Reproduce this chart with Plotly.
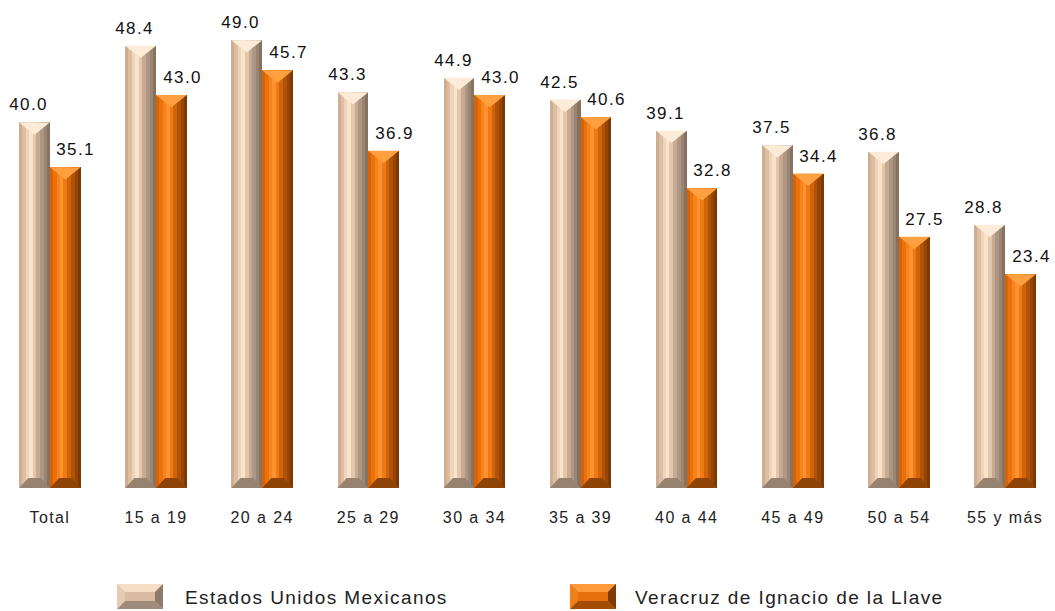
import plotly.graph_objects as go

categories = ["Total", "15 a 19", "20 a 24", "25 a 29", "30 a 34", "35 a 39",
              "40 a 44", "45 a 49", "50 a 54", "55 y más"]
mexico = [40.0, 48.4, 49.0, 43.3, 44.9, 42.5, 39.1, 37.5, 36.8, 28.8]
veracruz = [35.1, 43.0, 45.7, 36.9, 43.0, 40.6, 32.8, 34.4, 27.5, 23.4]
series_names = ["Estados Unidos Mexicanos", "Veracruz de Ignacio de la Llave"]

W = 0.29
xs = list(range(len(categories)))
FONT = "Liberation Sans, Arial, sans-serif"

strips = {
    0: [(0.00, 0.10, "#CDAE93"), (0.10, 0.22, "#DCBEA3"), (0.22, 0.32, "#EFD4BA"),
        (0.32, 0.44, "#FAE3CC"), (0.44, 0.56, "#E3C7AC"), (0.56, 0.68, "#C6AA92"),
        (0.68, 0.80, "#AD9684"), (0.80, 0.90, "#9A8472"), (0.90, 1.00, "#877262")],
    1: [(0.00, 0.10, "#D86206"), (0.10, 0.22, "#EA720E"), (0.22, 0.32, "#F8821C"),
        (0.32, 0.44, "#FF9230"), (0.44, 0.56, "#EE7A16"), (0.56, 0.68, "#D0640A"),
        (0.68, 0.80, "#B05208"), (0.80, 0.90, "#964506"), (0.90, 1.00, "#7C3904")],
}
caps = {0: "#FCEBD6", 1: "#FFA040"}
bottoms = {0: "#97826F", 1: "#8E4406"}
legend_cols = {
    0: dict(base="#D8BBA0", top="#F6DEC6", bottom="#A08A79", left="#E6CBB0", right="#8E7A6A"),
    1: dict(base="#E8700C", top="#FF9A3C", bottom="#A24C08", left="#F2801A", right="#7E3A06"),
}

fig = go.Figure()

for k, vals in enumerate([mexico, veracruz]):
    off0 = -W if k == 0 else 0.0
    for f0, f1, col in strips[k]:
        fig.add_trace(go.Bar(x=xs, y=vals, offset=off0 + W * f0, width=W * (f1 - f0),
                             marker=dict(color=col, line=dict(width=0)),
                             showlegend=False, hoverinfo="skip"))
    tx, ty, bx, by = [], [], [], []
    for x, v in zip(xs, vals):
        xl, xr = x + off0, x + off0 + W
        tx += [xl, xr, (xl + xr) / 2, xl, None]
        ty += [v, v, v - 1.35, v, None]
        bx += [xl, xr, xr - W * 0.3, xl + W * 0.3, xl, None]
        by += [0, 0, 1.1, 1.1, 0, None]
    fig.add_trace(go.Scatter(x=tx, y=ty, mode="lines", fill="toself",
                             fillcolor=caps[k], line=dict(width=0),
                             showlegend=False, hoverinfo="skip"))
    fig.add_trace(go.Scatter(x=bx, y=by, mode="lines", fill="toself",
                             fillcolor=bottoms[k], line=dict(width=0),
                             showlegend=False, hoverinfo="skip"))

annotations = []
for k, vals in enumerate([mexico, veracruz]):
    dx = -0.2 if k == 0 else 0.245
    for x, v in zip(xs, vals):
        annotations.append(dict(x=x + dx, y=v, xref="x", yref="y", text=f"{v:.1f}",
                                showarrow=False, xanchor="center", yanchor="bottom",
                                yshift=6, font=dict(family=FONT, size=17, color="#111111")))

shapes = []
H = 478.0
def py(Y):
    return (488 - Y) / H
def px(X):
    return X / 1055.0

legend_items = [(117, 163, 183, 0), (570, 616, 633, 1)]
for x0, x1, tx, k in legend_items:
    s = legend_cols[k]
    y0, y1 = 584, 609
    b = 8
    shapes.append(dict(type="rect", xref="paper", yref="paper",
                       x0=px(x0), x1=px(x1), y0=py(y1), y1=py(y0),
                       fillcolor=s["base"], line=dict(width=0)))
    shapes.append(dict(type="path", xref="paper", yref="paper",
                       path=f"M{px(x0)},{py(y0)} L{px(x1)},{py(y0)} L{px(x1-b)},{py(y0+b)} L{px(x0+b)},{py(y0+b)} Z",
                       fillcolor=s["top"], line=dict(width=0)))
    shapes.append(dict(type="path", xref="paper", yref="paper",
                       path=f"M{px(x0)},{py(y1)} L{px(x1)},{py(y1)} L{px(x1-b)},{py(y1-b)} L{px(x0+b)},{py(y1-b)} Z",
                       fillcolor=s["bottom"], line=dict(width=0)))
    shapes.append(dict(type="path", xref="paper", yref="paper",
                       path=f"M{px(x0)},{py(y0)} L{px(x0+b)},{py(y0+b)} L{px(x0+b)},{py(y1-b)} L{px(x0)},{py(y1)} Z",
                       fillcolor=s["left"], line=dict(width=0)))
    shapes.append(dict(type="path", xref="paper", yref="paper",
                       path=f"M{px(x1)},{py(y0)} L{px(x1-b)},{py(y0+b)} L{px(x1-b)},{py(y1-b)} L{px(x1)},{py(y1)} Z",
                       fillcolor=s["right"], line=dict(width=0)))
    annotations.append(dict(xref="paper", yref="paper", x=px(tx), y=py(597),
                            xanchor="left", yanchor="middle", align="left",
                            showarrow=False, text=series_names[k],
                            font=dict(family=FONT, size=19, color="#222222")))

fig.update_layout(
    width=1055, height=611,
    margin=dict(l=0, r=0, t=10, b=123),
    paper_bgcolor="white", plot_bgcolor="white",
    barmode="overlay", bargap=0,
    showlegend=False,
    shapes=shapes, annotations=annotations,
    xaxis=dict(range=[-0.47, 9.47], tickmode="array", tickvals=xs,
               ticktext=categories, showgrid=False, zeroline=False,
               showline=False, ticks="", ticklabelstandoff=18,
               tickfont=dict(family=FONT, size=16, color="#222222")),
    yaxis=dict(range=[0, 52.3], visible=False, showgrid=False,
               zeroline=False),
)

post = (
    "document.body.style.margin='0';"
    "document.querySelectorAll('.main-svg text').forEach(function(t){t.style.letterSpacing='1.4px';});"
)
fig.write_html("out.html", post_script=post, config={"displayModeBar": False})
